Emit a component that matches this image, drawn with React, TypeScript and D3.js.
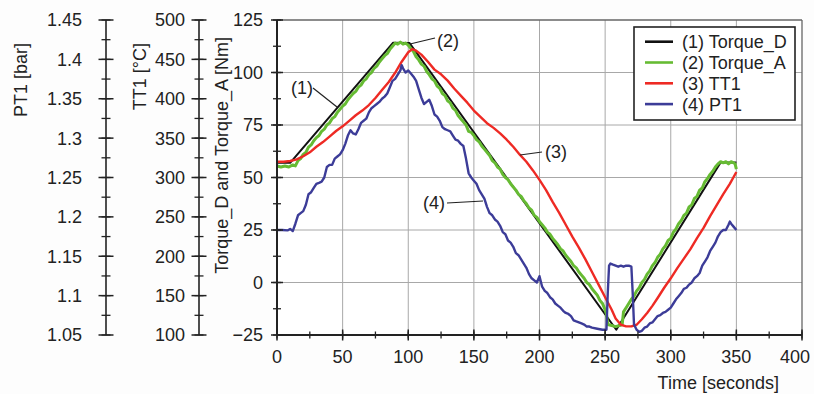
import React from "react";
import * as d3 from "d3";

// ---- data ----
const torqueD: [number, number][] = [
  [0, 57], [10, 57], [88.5, 114.2], [101, 114], [258.5, -22.5], [338, 57.2], [350, 57.2],
];

const torqueA: [number, number][] = [
  [0, 55.5], [3, 55], [6, 55.5], [9, 55], [12, 56], [14, 55.5], [16, 58], [18, 59], [20, 61], [22, 62],
  [24, 64.5], [26, 65.5], [28, 67.5], [30, 69], [32, 70], [34, 72], [36, 73], [38, 75], [40, 76], [42, 78],
  [44, 79], [46, 81], [48, 82.5], [50, 84], [52, 85], [54, 87], [56, 88.5], [58, 90], [60, 91], [62, 93],
  [64, 94], [66, 96], [68, 97], [70, 99], [72, 100], [74, 102], [76, 103], [78, 105], [80, 106.5], [82, 108],
  [84, 109], [86, 111], [88, 112.5], [90, 114], [92, 113.5], [94, 114.5], [96, 113.5], [98, 114], [100, 113],
  [102, 111.5], [104, 110], [106, 107.5], [108, 106], [110, 104], [112, 103], [114, 100.5], [116, 99], [118, 97],
  [120, 96], [122, 93.5], [124, 92.5], [126, 90], [128, 89], [130, 86.5], [132, 85.5], [134, 83], [136, 82],
  [138, 79.5], [140, 78], [142, 76.5], [144, 75], [146, 72], [148, 71.5], [150, 70], [152, 68], [154, 67],
  [156, 65], [158, 63.5], [160, 62], [162, 60.5], [164, 58], [166, 57], [168, 55], [170, 54], [172, 51.5],
  [174, 50], [176, 49], [178, 47], [180, 45.5], [182, 44], [184, 42], [186, 41], [188, 39], [190, 37.5],
  [192, 35.5], [194, 34.5], [196, 32], [198, 31], [200, 29], [202, 27.5], [204, 26], [206, 24], [208, 23],
  [210, 21], [212, 19.5], [214, 18], [216, 16], [218, 15], [220, 13], [222, 11.5], [224, 10], [226, 8],
  [228, 7], [230, 5], [232, 3.5], [234, 2], [236, 0], [238, -1], [240, -3], [242, -4.5], [244, -6],
  [246, -8.5], [248, -10], [250, -13], [251, -15], [252, -20], [255, -20.5], [258, -21], [261, -20.5],
  [263, -20], [264, -14], [266, -12], [268, -10], [270, -8], [272, -6.5], [274, -4], [276, -2.5], [278, 0],
  [280, 1.5], [282, 4], [284, 5.5], [286, 8], [288, 9.5], [290, 12], [292, 13.5], [294, 16], [296, 17.5],
  [298, 20], [300, 21], [302, 24], [304, 25.5], [306, 28], [308, 29.5], [310, 32], [312, 33], [314, 36],
  [316, 37], [318, 40], [320, 41], [322, 44], [324, 45], [326, 48], [328, 49.5], [330, 51.5], [332, 53],
  [334, 55], [336, 56.5], [338, 57.5], [340, 57], [342, 57.5], [344, 56.5], [346, 57.5], [348, 57],
  [349, 56.5], [350, 54],
];

// TT1 in °C
const tt1: [number, number][] = [
  [0, 320], [5, 320], [10, 321], [15, 323], [20, 327], [25, 332], [30, 339], [35, 345], [40, 352],
  [45, 359], [50, 365], [55, 372], [60, 379], [65, 385], [70, 392], [75, 401], [80, 411], [85, 421],
  [90, 433], [95, 447], [100, 459], [103, 463], [106, 461], [110, 456], [115, 447], [120, 437],
  [125, 431], [130, 423], [135, 413], [140, 404], [145, 395], [150, 385], [155, 377], [160, 369],
  [165, 363], [170, 356], [175, 348], [180, 339], [185, 329], [190, 320], [195, 309], [200, 297],
  [205, 284], [210, 269], [215, 255], [220, 240], [225, 225], [230, 211], [235, 196], [240, 180],
  [245, 164], [250, 148], [255, 132], [258, 121], [262, 113], [266, 111], [270, 111], [274, 113],
  [278, 120], [282, 128], [286, 137], [290, 147], [295, 160], [300, 172], [305, 185], [310, 197],
  [315, 209], [320, 223], [325, 236], [330, 251], [335, 265], [340, 279], [345, 292], [350, 307],
];

// PT1 in bar
const pt1: [number, number][] = [
  [0, 1.1833], [4, 1.1833], [8, 1.1828], [10, 1.1847], [12, 1.182], [14, 1.1913], [16, 1.202],
  [18, 1.2047], [20, 1.2073], [22, 1.2153], [24, 1.2287], [26, 1.2313], [28, 1.2367], [30, 1.242],
  [32, 1.2433], [34, 1.2447], [36, 1.25], [38, 1.2633], [40, 1.266], [42, 1.266], [44, 1.274],
  [46, 1.2767], [48, 1.2793], [50, 1.2847], [52, 1.2927], [54, 1.3033], [56, 1.31], [58, 1.306],
  [60, 1.3047], [62, 1.3113], [64, 1.3193], [66, 1.322], [68, 1.3247], [70, 1.3327], [72, 1.338],
  [74, 1.3407], [76, 1.3433], [78, 1.346], [80, 1.35], [82, 1.3527], [84, 1.3567], [86, 1.3647],
  [88, 1.3727], [90, 1.3753], [92, 1.3807], [94, 1.386], [95, 1.3927], [96, 1.3887], [98, 1.3833],
  [100, 1.386], [102, 1.382], [104, 1.378], [106, 1.3727], [108, 1.362], [110, 1.3513], [112, 1.3433],
  [114, 1.346], [116, 1.3487], [118, 1.3407], [120, 1.33], [122, 1.3273], [124, 1.322], [126, 1.314],
  [128, 1.3113], [130, 1.31], [132, 1.3087], [134, 1.3033], [136, 1.298], [138, 1.2967], [140, 1.2927],
  [142, 1.29], [144, 1.274], [146, 1.2553], [148, 1.25], [150, 1.246], [152, 1.242], [154, 1.234],
  [156, 1.2287], [158, 1.2233], [160, 1.2127], [162, 1.2047], [164, 1.202], [166, 1.1967], [168, 1.194],
  [170, 1.1887], [172, 1.1807], [174, 1.178], [176, 1.17], [178, 1.1673], [180, 1.162], [182, 1.154],
  [184, 1.1513], [186, 1.146], [188, 1.1407], [190, 1.1353], [192, 1.1273], [194, 1.122], [196, 1.1193],
  [198, 1.1167], [200, 1.1247], [202, 1.1113], [204, 1.106], [206, 1.1033], [208, 1.098], [210, 1.0953],
  [212, 1.09], [214, 1.0873], [216, 1.0847], [218, 1.0807], [220, 1.078], [222, 1.0767], [224, 1.074],
  [226, 1.0687], [228, 1.0673], [230, 1.066], [232, 1.0647], [234, 1.0633], [236, 1.0607], [238, 1.0607],
  [240, 1.0593], [244, 1.058], [248, 1.0567], [251, 1.0567], [252, 1.1033], [253, 1.138], [254, 1.1407],
  [256, 1.1393], [258, 1.138], [260, 1.1367], [262, 1.138], [264, 1.1367], [266, 1.138], [268, 1.138],
  [270, 1.1367], [271, 1.1033], [272, 1.0633], [274, 1.0567], [276, 1.054], [278, 1.0553], [280, 1.0593],
  [282, 1.0607], [284, 1.0647], [286, 1.066], [288, 1.07], [290, 1.074], [292, 1.0753], [294, 1.078],
  [296, 1.0793], [298, 1.082], [300, 1.0847], [302, 1.09], [304, 1.0953], [306, 1.0993], [308, 1.1033],
  [310, 1.1087], [312, 1.11], [314, 1.114], [316, 1.1167], [318, 1.122], [320, 1.1247], [322, 1.1287],
  [324, 1.138], [326, 1.1433], [328, 1.1487], [330, 1.1567], [332, 1.162], [334, 1.1673], [336, 1.1753],
  [338, 1.1807], [340, 1.1833], [342, 1.1833], [344, 1.19], [345, 1.194], [346, 1.1913], [348, 1.1873],
  [350, 1.1833],
];

const xTicks = [0, 50, 100, 150, 200, 250, 300, 350, 400];
const torqueTicks = [-25, 0, 25, 50, 75, 100, 125];
const tt1Ticks = [100, 150, 200, 250, 300, 350, 400, 450, 500];
const pt1Ticks = [1.05, 1.1, 1.15, 1.2, 1.25, 1.3, 1.35, 1.4, 1.45];
const pt1TickLabels = ["1.05", "1.1", "1.15", "1.2", "1.25", "1.3", "1.35", "1.4", "1.45"];

const legendLabels = ["(1) Torque_D", "(2) Torque_A", "(3) TT1", "(4) PT1"];
const COLORS = ["#111111", "#66bb33", "#ee2a24", "#3c3c98"];

const W = 814;
const H = 394;
const FONT = "'Liberation Sans', Arial, Helvetica, sans-serif";
const TXT = "#222";

export default function App() {
  const x = d3.scaleLinear().domain([0, 400]).range([277, 802]);
  const y = d3.scaleLinear().domain([-25, 125]).range([335, 20]);
  const yT = d3.scaleLinear().domain([100, 500]).range([335, 20]);
  const yP = d3.scaleLinear().domain([1.05, 1.45]).range([335, 20]);

  const lineMain = d3.line<[number, number]>().x((d) => x(d[0])).y((d) => y(d[1]));
  const lineT = d3.line<[number, number]>().x((d) => x(d[0])).y((d) => yT(d[1]));
  const lineP = d3.line<[number, number]>().x((d) => x(d[0])).y((d) => yP(d[1]));

  const minorMainY = d3.range(-25, 125.01, 12.5);
  const minorX = d3.range(0, 400.01, 25);
  const minorT = d3.range(100, 500.01, 25);
  const minorP = d3.range(0, 17).map((i) => 1.05 + i * 0.025);

  const [x0, x1] = x.range();
  const [yb, yt] = y.range();

  const sideAxis = (
    ax: number,
    scale: d3.ScaleLinear<number, number>,
    minor: number[],
    major: number[],
    labels: string[],
    labelX: number
  ) => (
    <g>
      <line x1={ax} x2={ax} y1={yb} y2={yt} stroke="#222" strokeWidth={1.6} />
      {minor.map((v, i) => (
        <line key={"m" + i} x1={ax - 4.5} x2={ax + 4.5} y1={scale(v)} y2={scale(v)} stroke="#222" strokeWidth={1.3} />
      ))}
      {major.map((v, i) => (
        <g key={"M" + i}>
          <line x1={ax - 7.5} x2={ax + 7.5} y1={scale(v)} y2={scale(v)} stroke="#222" strokeWidth={1.5} />
          <text x={labelX} y={scale(v)} dy="0.36em" textAnchor="end" fontSize={18} fill={TXT} fontFamily={FONT}>
            {labels[i]}
          </text>
        </g>
      ))}
    </g>
  );

  return (
    <svg
      width={W}
      height={H}
      style={{ position: "absolute", left: 0, top: 0, background: "#fdfdfd" }}
    >
      <rect x={0} y={0} width={W} height={H} fill="#fdfdfd" />
      {/* plot background */}
      <rect x={x0} y={yt} width={x1 - x0} height={yb - yt} fill="#ffffff" />
      {/* grid */}
      {xTicks.slice(1, -1).map((v) => (
        <line key={"gx" + v} x1={x(v)} x2={x(v)} y1={yt} y2={yb} stroke="#a8a8a8" strokeWidth={1} />
      ))}
      {torqueTicks.slice(1, -1).map((v) => (
        <line key={"gy" + v} x1={x0} x2={x1} y1={y(v)} y2={y(v)} stroke="#a8a8a8" strokeWidth={1} />
      ))}
      {/* frame */}
      <line x1={x0} x2={x1} y1={yt} y2={yt} stroke="#666" strokeWidth={1.3} />
      <line x1={x1} x2={x1} y1={yt} y2={yb} stroke="#666" strokeWidth={1.3} />

      {/* series */}
      <path d={lineMain(torqueD) || ""} fill="none" stroke={COLORS[0]} strokeWidth={2} strokeLinejoin="round" />
      <path d={lineMain(torqueA) || ""} fill="none" stroke={COLORS[1]} strokeWidth={3} strokeLinejoin="round" />
      <path d={lineT(tt1) || ""} fill="none" stroke={COLORS[2]} strokeWidth={2.4} strokeLinejoin="round" />
      <path d={lineP(pt1) || ""} fill="none" stroke={COLORS[3]} strokeWidth={2.4} strokeLinejoin="round" />

      {/* main axes */}
      <line x1={x0} x2={x1} y1={yb} y2={yb} stroke="#222" strokeWidth={2} />
      <line x1={x0} x2={x0} y1={yb} y2={yt} stroke="#222" strokeWidth={2} />
      {minorMainY.map((v) => (
        <line key={"ty" + v} x1={x0 - 4} x2={x0 + 4} y1={y(v)} y2={y(v)} stroke="#222" strokeWidth={1.3} />
      ))}
      {torqueTicks.map((v) => (
        <g key={"TY" + v}>
          <line x1={x0 - 6} x2={x0 + 6} y1={y(v)} y2={y(v)} stroke="#222" strokeWidth={1.5} />
          <text x={263} y={y(v)} dy="0.36em" textAnchor="end" fontSize={18} fill={TXT} fontFamily={FONT}>
            {v < 0 ? "\u2212" + Math.abs(v) : String(v)}
          </text>
        </g>
      ))}
      {minorX.map((v) => (
        <line key={"tx" + v} x1={x(v)} x2={x(v)} y1={yb - 3.5} y2={yb + 3.5} stroke="#222" strokeWidth={1.3} />
      ))}
      {xTicks.map((v) => (
        <g key={"TX" + v}>
          <line x1={x(v)} x2={x(v)} y1={yb - 5.5} y2={yb + 5.5} stroke="#222" strokeWidth={1.5} />
          <text x={Math.min(x(v), 795)} y={363} textAnchor="middle" fontSize={18} fill={TXT} fontFamily={FONT}>
            {v}
          </text>
        </g>
      ))}
      <text x={779} y={389} textAnchor="end" fontSize={18} fill={TXT} fontFamily={FONT}>
        Time [seconds]
      </text>

      {/* side axes */}
      {sideAxis(106, yP, minorP, pt1Ticks, pt1TickLabels, 82)}
      {sideAxis(199, yT, minorT, tt1Ticks, tt1Ticks.map(String), 185)}

      {/* axis titles */}
      <text transform="translate(27,43) rotate(-90)" textAnchor="end" fontSize={18} fill={TXT} fontFamily={FONT}>
        PT1 [bar]
      </text>
      <text transform="translate(146,43) rotate(-90)" textAnchor="end" fontSize={18} fill={TXT} fontFamily={FONT}>
        TT1 [°C]
      </text>
      <text transform="translate(228,37) rotate(-90)" textAnchor="end" fontSize={18} fill={TXT} fontFamily={FONT}>
        Torque_D and Torque_A [Nm]
      </text>

      {/* annotations */}
      <line x1={313} y1={88} x2={337} y2={107} stroke="#222" strokeWidth={1.2} />
      <text x={302} y={94} textAnchor="middle" fontSize={18} fill={TXT} fontFamily={FONT}>(1)</text>
      <line x1={435} y1={38} x2={410} y2={44} stroke="#222" strokeWidth={1.2} />
      <text x={448} y={47} textAnchor="middle" fontSize={18} fill={TXT} fontFamily={FONT}>(2)</text>
      <line x1={520} y1={155} x2={542} y2={152} stroke="#222" strokeWidth={1.2} />
      <text x={556} y={158} textAnchor="middle" fontSize={18} fill={TXT} fontFamily={FONT}>(3)</text>
      <line x1={447} y1={203} x2={483} y2={201} stroke="#222" strokeWidth={1.2} />
      <text x={434} y={209} textAnchor="middle" fontSize={18} fill={TXT} fontFamily={FONT}>(4)</text>

      {/* legend */}
      <rect x={634} y={27} width={161} height={93} fill="#ffffff" stroke="#222" strokeWidth={1.6} />
      {legendLabels.map((lab, i) => {
        const ry = 41.7 + i * 20.8;
        return (
          <g key={lab}>
            <line x1={645} x2={673} y1={ry} y2={ry} stroke={COLORS[i]} strokeWidth={2.6} />
            <text x={682} y={ry} dy="0.36em" fontSize={18} fill={TXT} fontFamily={FONT}>
              {lab}
            </text>
          </g>
        );
      })}
    </svg>
  );
}
